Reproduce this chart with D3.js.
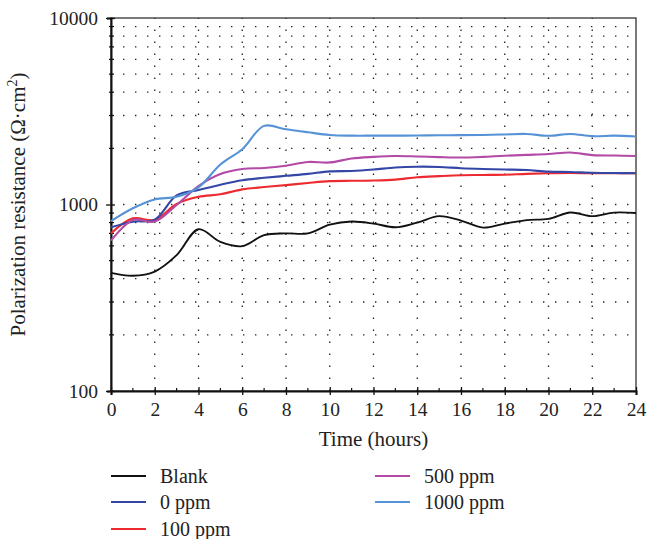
<!DOCTYPE html>
<html>
<head>
<meta charset="utf-8">
<script src="https://cdn.jsdelivr.net/npm/d3@7"></script>
<style>
  html, body { margin: 0; padding: 0; background: #fff; }
  svg { display: block; }
  text { font-family: "Liberation Serif", "DejaVu Serif", serif; fill: #222; }
</style>
</head>
<body>
<svg id="chart" width="647" height="539"></svg>
<script>
// Time axis (hours), one reading per hour
const hours = d3.range(0, 25);

// Polarization resistance (Ω·cm²) for each condition
const blank   = [430, 415, 437, 535, 737, 630, 598, 685, 700, 700, 780, 810, 790, 755, 800, 866, 820, 752, 790, 825, 838, 906, 866, 905, 900];
const ppm0    = [755, 809, 830, 1120, 1196, 1277, 1350, 1390, 1425, 1460, 1505, 1512, 1540, 1580, 1595, 1590, 1565, 1550, 1540, 1530, 1500, 1495, 1480, 1475, 1470];
const ppm100  = [700, 843, 826, 1006, 1100, 1134, 1205, 1240, 1270, 1305, 1335, 1340, 1345, 1360, 1400, 1420, 1436, 1440, 1445, 1460, 1470, 1475, 1470, 1470, 1470];
const ppm500  = [640, 826, 810, 994, 1256, 1456, 1550, 1570, 1615, 1690, 1680, 1765, 1800, 1820, 1810, 1795, 1785, 1800, 1826, 1845, 1865, 1900, 1840, 1830, 1820];
const ppm1000 = [815, 955, 1065, 1100, 1236, 1640, 1980, 2640, 2530, 2440, 2360, 2340, 2340, 2340, 2345, 2350, 2355, 2360, 2375, 2390, 2335, 2390, 2325, 2340, 2315];

const seriesNames = ["Blank", "0 ppm", "100 ppm", "500 ppm", "1000 ppm"];
const seriesValues = [blank, ppm0, ppm100, ppm500, ppm1000];
const seriesColors = ["#111111", "#3447a6", "#ec2a2f", "#b24aa6", "#5592d6"];

const xTicks = d3.range(0, 25, 2);
const yTicks = [100, 1000, 10000];

const svg = d3.select("#chart");
const margin = { left: 111, top: 18, right: 11, bottom: 148 };
const W = 647, H = 539;
const x0 = margin.left, x1 = W - margin.right;
const y0 = margin.top, y1 = H - margin.bottom;

const x = d3.scaleLinear().domain([0, 24]).range([x0, x1]);
const y = d3.scaleLog().domain([100, 10000]).range([y1, y0]);

// minor log values between decades
const minorY = [];
[100, 1000].forEach(d => { for (let k = 2; k <= 9; k++) minorY.push(d * k); });

const grid = svg.append("g");
// horizontal dotted grid at every log step
grid.selectAll("line.h").data(minorY.concat([1000])).join("line")
  .attr("x1", x0).attr("x2", x1)
  .attr("y1", d => y(d)).attr("y2", d => y(d))
  .attr("stroke", "#222").attr("stroke-width", 1.3)
  .attr("stroke-dasharray", "1.4,10.6");
// vertical dotted grid at labelled hours
grid.selectAll("line.v").data(xTicks.filter(d => d > 0 && d < 24)).join("line")
  .attr("x1", d => x(d)).attr("x2", d => x(d))
  .attr("y1", y1).attr("y2", y0)
  .attr("stroke", "#222").attr("stroke-width", 1.3)
  .attr("stroke-dasharray", "1.4,10.6");

// frame
svg.append("rect")
  .attr("x", x0).attr("y", y0).attr("width", x1 - x0).attr("height", y1 - y0)
  .attr("fill", "none").attr("stroke", "#333").attr("stroke-width", 1.3);

// x axis
const xAxis = svg.append("g").attr("transform", `translate(0,${y1})`)
  .call(d3.axisBottom(x).tickValues(xTicks).tickSize(4).tickPadding(7).tickFormat(d3.format("d")));
xAxis.select(".domain").attr("stroke", "#111").attr("stroke-width", 2);
xAxis.selectAll(".tick line").attr("y1", -4).attr("stroke", "#111").attr("stroke-width", 1.3);
xAxis.selectAll(".tick text").style("font-size", "19.5px").style("font-family", "Liberation Serif, serif").attr("fill", "#222");
xAxis.append("g").selectAll("line").data(d3.range(1, 24, 2)).join("line")
  .attr("x1", d => x(d)).attr("x2", d => x(d)).attr("y1", 0).attr("y2", -3)
  .attr("stroke", "#111").attr("stroke-width", 1.2);

// y axis
const yAxis = svg.append("g").attr("transform", `translate(${x0},0)`)
  .call(d3.axisLeft(y).tickValues(yTicks).tickSize(4).tickPadding(9).tickFormat(d3.format("d")));
yAxis.select(".domain").attr("stroke", "#111").attr("stroke-width", 2);
yAxis.selectAll(".tick line").attr("x1", 4).attr("x2", -5).attr("stroke", "#111").attr("stroke-width", 1.3);
yAxis.selectAll(".tick text").style("font-size", "19.5px").style("font-family", "Liberation Serif, serif").attr("fill", "#222");
yAxis.append("g").selectAll("line").data(minorY).join("line")
  .attr("x1", -2).attr("x2", 3).attr("y1", d => y(d)).attr("y2", d => y(d))
  .attr("stroke", "#111").attr("stroke-width", 1.2);

// axis titles
svg.append("text")
  .attr("x", (x0 + x1) / 2).attr("y", 446)
  .attr("text-anchor", "middle").style("font-size", "21px")
  .text("Time (hours)");

const yt = svg.append("text")
  .attr("transform", `translate(25,${(y0 + y1) / 2}) rotate(-90)`)
  .attr("text-anchor", "middle").style("font-size", "21px");
yt.append("tspan").text("Polarization resistance (Ω·cm");
yt.append("tspan").attr("dy", -8).style("font-size", "14px").text("2");
yt.append("tspan").attr("dy", 8).text(")");

// curves
const line = d3.line()
  .x((d, i) => x(hours[i]))
  .y(d => y(d))
  .curve(d3.curveCatmullRom.alpha(0.5));

const drawOrder = [0, 2, 1, 3, 4];
svg.append("g").selectAll("path").data(drawOrder).join("path")
  .attr("d", i => line(seriesValues[i]))
  .attr("fill", "none")
  .attr("stroke", i => seriesColors[i])
  .attr("stroke-width", i => i === 0 ? 1.9 : 2.1)
  .attr("stroke-linejoin", "round");

// legend: two columns
const legendPos = [
  { lx: 111, ly: 476 }, { lx: 111, ly: 502 }, { lx: 111, ly: 529 },
  { lx: 375, ly: 476 }, { lx: 375, ly: 502 }
];
const leg = svg.append("g").selectAll("g").data(seriesNames).join("g")
  .attr("transform", (d, i) => `translate(${legendPos[i].lx},${legendPos[i].ly})`);
leg.append("line")
  .attr("x1", 0).attr("x2", 35).attr("y1", 0).attr("y2", 0)
  .attr("stroke", (d, i) => seriesColors[i]).attr("stroke-width", 2);
leg.append("text")
  .attr("x", 49).attr("y", 6.5)
  .style("font-size", "20px")
  .text(d => d);
</script>
</body>
</html>
